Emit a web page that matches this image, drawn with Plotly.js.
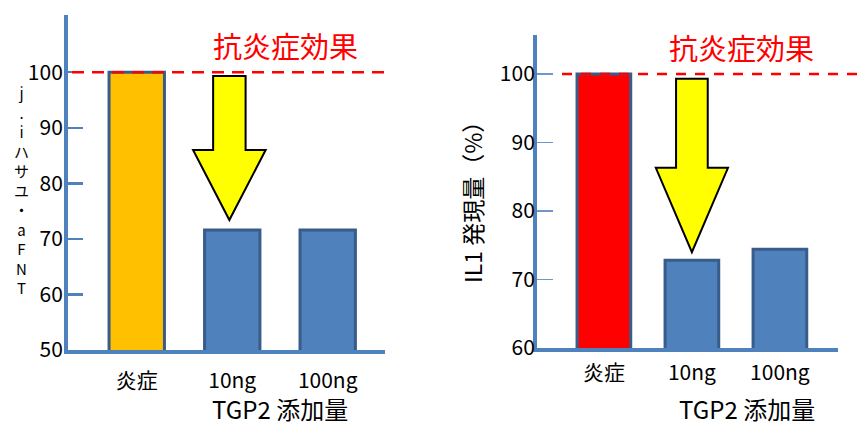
<!DOCTYPE html>
<html><head><meta charset="utf-8">
<script src="https://cdn.plot.ly/plotly-3.0.1.min.js"></script>
<style>html,body{margin:0;padding:0;background:#fff}#c{width:859px;height:428px}</style>
</head><body><div id="c"></div>
<script>
// data
const categories = ['炎症', '10ng', '100ng'];
const tnfValues = [100, 71.6, 71.6];
const il1Values = [100, 72.8, 74.4];
const leftTicks = [50, 60, 70, 80, 90, 100];
const rightTicks = [60, 70, 80, 90, 100];
const leftTitleChars = ['j', '.', 'i', 'ハ', 'サ', 'ユ', '・', 'a', 'F', 'N', 'T'];
const rightTitle = 'IL1 発現量（%）';
const xTitle = 'TGP2 添加量';
const effectLabel = '抗炎症効果';
const effectLevel = 100;

const idx = categories.map((_, i) => i);
const JP = '"Noto Sans CJK JP", "Noto Sans", sans-serif';
const blue = '#4F81BD', border = '#385D8A';

const traces = [
  {type: 'bar', x: idx, y: tnfValues, xaxis: 'x', yaxis: 'y', width: 0.58,
   marker: {color: ['#FFC000', blue, blue], line: {color: border, width: 3}}, hoverinfo: 'none'},
  {type: 'bar', x: idx, y: il1Values, xaxis: 'x2', yaxis: 'y2', width: 0.61,
   marker: {color: ['#FF0000', blue, blue], line: {color: border, width: 3}}, hoverinfo: 'none'}
];

function arrow(xr, yr, cx, sw, hw, top, neck, tip) {
  return {type: 'path', xref: xr, yref: yr, layer: 'above',
    path: `M ${cx - sw} ${top} L ${cx + sw} ${top} L ${cx + sw} ${neck} L ${cx + hw} ${neck} L ${cx} ${tip} L ${cx - hw} ${neck} L ${cx - sw} ${neck} Z`,
    fillcolor: '#FFFF00', line: {color: '#000', width: 2}};
}

const layout = {
  width: 859, height: 428, margin: {l: 0, r: 0, t: 0, b: 0},
  paper_bgcolor: '#fff', plot_bgcolor: 'rgba(0,0,0,0)', showlegend: false,
  font: {family: JP, color: '#000', size: 17},
  xaxis: {domain: [68 / 859, 385 / 859], range: [-0.72, 2.6], tickvals: idx, ticktext: categories,
    showline: true, linecolor: blue, linewidth: 4, ticks: '', showgrid: false, zeroline: false,
    tickfont: {size: 21}, ticklabelstandoff: 9, fixedrange: true},
  yaxis: {domain: [1 - 350 / 428, 1 - 15 / 428], range: [50, 110.3], tickvals: leftTicks,
    showline: true, linecolor: blue, linewidth: 4, ticks: 'inside', ticklen: 15, tickwidth: 2.5,
    tickcolor: blue, showgrid: false, zeroline: false, tickfont: {size: 21}, ticklabelstandoff: -3},
  xaxis2: {domain: [537 / 859, 838 / 859], range: [-0.76, 2.66], tickvals: idx, ticktext: categories,
    showline: true, linecolor: blue, linewidth: 3.5, ticks: '', showgrid: false, zeroline: false,
    tickfont: {size: 21}, ticklabelstandoff: 3, anchor: 'y2'},
  yaxis2: {domain: [1 - 348 / 428, 1 - 35 / 428], range: [60, 105.7], tickvals: rightTicks, anchor: 'x2',
    showline: true, linecolor: blue, linewidth: 4, ticks: 'inside', ticklen: 16, tickwidth: 1.5,
    tickcolor: '#6F97CF', showgrid: false, zeroline: false, tickfont: {size: 21}, ticklabelstandoff: -6},
  shapes: [
    {type: 'line', xref: 'paper', yref: 'y', x0: 72 / 859, x1: 385 / 859, y0: effectLevel, y1: effectLevel,
     line: {color: '#FF0000', width: 2.5, dash: '12px,8px'}, layer: 'above'},
    {type: 'line', xref: 'paper', yref: 'y2', x0: 562 / 859, x1: 858 / 859, y0: effectLevel, y1: effectLevel,
     line: {color: '#FF0000', width: 2.5, dash: '10px,9px'}, layer: 'above'},
    arrow('x', 'y', 0.97, 0.17, 0.38, 99.3, 86.0, 73.4),
    arrow('x2', 'y2', 1.0, 0.18, 0.41, 99.3, 86.3, 74.0)
  ],
  annotations: [
    {xref: 'paper', yref: 'paper', x: 285 / 859, y: 1 - 45 / 428, text: effectLabel, showarrow: false,
     font: {size: 29, color: '#FF0000'}, xanchor: 'center', yanchor: 'middle'},
    {xref: 'paper', yref: 'paper', x: 741 / 859, y: 1 - 47 / 428, text: effectLabel, showarrow: false,
     font: {size: 29, color: '#FF0000'}, xanchor: 'center', yanchor: 'middle'},
    {xref: 'paper', yref: 'paper', x: 280 / 859, y: 0.003, text: xTitle, showarrow: false,
     font: {size: 24}, xanchor: 'center', yanchor: 'bottom', borderpad: 0},
    {xref: 'paper', yref: 'paper', x: 747 / 859, y: 0.003, text: xTitle, showarrow: false,
     font: {size: 24}, xanchor: 'center', yanchor: 'bottom', borderpad: 0},
    {xref: 'paper', yref: 'paper', x: 472 / 859, y: 1 - 197 / 428, text: rightTitle, showarrow: false,
     textangle: -90, font: {size: 23}, xanchor: 'center', yanchor: 'middle'},
    {xref: 'paper', yref: 'paper', x: 21 / 859, y: 1 - 190 / 428, text: leftTitleChars.join('<br>'), showarrow: false,
     font: {size: 15}, xanchor: 'center', yanchor: 'middle', align: 'center'}
  ]
};

Plotly.newPlot('c', traces, layout, {displayModeBar: false, staticPlot: true});
</script></body></html>
